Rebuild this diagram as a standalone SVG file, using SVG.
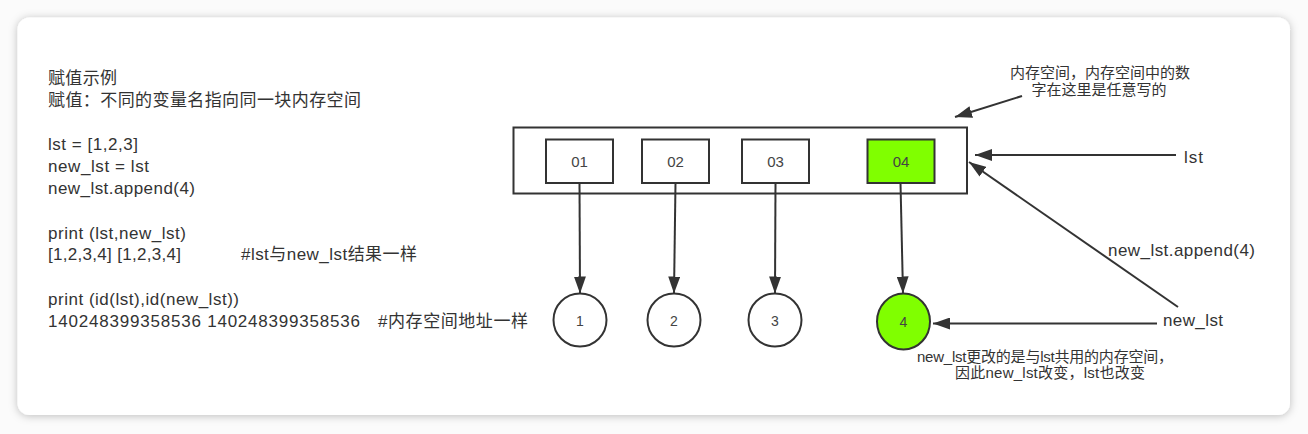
<svg xmlns="http://www.w3.org/2000/svg" width="1308" height="434" viewBox="0 0 1308 434">
  <defs>
    <filter id="shadow" x="-5%" y="-10%" width="110%" height="120%">
      <feDropShadow dx="0" dy="1" stdDeviation="4" flood-color="#000" flood-opacity="0.25"/>
    </filter>
    <marker id="arrow" viewBox="0 0 17 12" markerWidth="17" markerHeight="12" refX="17" refY="6" orient="auto" markerUnits="userSpaceOnUse">
      <path d="M0,0 L17,6 L0,12 z" fill="#333"/>
    </marker>
    <style>
      text { font-family: "Liberation Sans", "Noto Sans CJK SC", sans-serif; fill: #333; }
      .code { font-size: 17px; }
      .lbl { font-size: 17px; }
      .note { font-size: 15px; text-anchor: middle; }
      .box { fill: #fff; stroke: #333; stroke-width: 2; }
      .green { fill: #80ff00; }
      .num { font-size: 15px; text-anchor: middle; fill: #444; }
      .cnum { font-size: 14px; text-anchor: middle; fill: #444; }
      .conn { stroke: #333; stroke-width: 2; fill: none; marker-end: url(#arrow); }
    </style>
  </defs>

  <rect x="0" y="0" width="1308" height="434" fill="#fbfbfb"/>
  <rect x="17.5" y="17.5" width="1272.5" height="397.5" rx="12" ry="12" fill="#fff" filter="url(#shadow)"/>

  <g id="code-text">
    <text class="code" x="48" y="84" textLength="69">赋值示例</text>
    <text class="code" x="48" y="106" textLength="313">赋值：不同的变量名指向同一块内存空间</text>
    <text class="code" x="48" y="150" textLength="90">lst = [1,2,3]</text>
    <text class="code" x="48" y="172" textLength="101">new_lst = lst</text>
    <text class="code" x="48" y="194" textLength="147">new_lst.append(4)</text>
    <text class="code" x="48" y="239" textLength="138">print (lst,new_lst)</text>
    <text class="code" x="48" y="260" textLength="133">[1,2,3,4] [1,2,3,4]</text>
    <text class="code" x="241" y="260" textLength="176">#lst与new_lst结果一样</text>
    <text class="code" x="48" y="305" textLength="191">print (id(lst),id(new_lst))</text>
    <text class="code" x="48" y="327" textLength="312">140248399358536 140248399358536</text>
    <text class="code" x="378" y="327" textLength="150">#内存空间地址一样</text>
  </g>

  <g id="memory">
    <rect class="box" x="513.5" y="127.5" width="453.5" height="66"/>
  </g>
  <g id="cell-01">
    <rect class="box" x="546" y="139.5" width="67" height="43.5"/>
    <text class="num" x="579.5" y="166.5">01</text>
  </g>
  <g id="cell-02">
    <rect class="box" x="642" y="139.5" width="67" height="43.5"/>
    <text class="num" x="675.5" y="166.5">02</text>
  </g>
  <g id="cell-03">
    <rect class="box" x="742" y="139.5" width="67" height="43.5"/>
    <text class="num" x="775.5" y="166.5">03</text>
  </g>
  <g id="cell-04">
    <rect class="box green" x="867.5" y="139.5" width="67" height="43.5"/>
    <text class="num" x="901" y="166.5">04</text>
  </g>

  <g id="val-1">
    <ellipse class="box" cx="580" cy="320" rx="26.5" ry="26.5"/>
    <text class="cnum" x="580" y="325.5">1</text>
  </g>
  <g id="val-2">
    <ellipse class="box" cx="674" cy="320" rx="26.5" ry="26.5"/>
    <text class="cnum" x="674" y="325.5">2</text>
  </g>
  <g id="val-3">
    <ellipse class="box" cx="775" cy="320" rx="26.5" ry="26.5"/>
    <text class="cnum" x="775" y="325.5">3</text>
  </g>
  <g id="val-4">
    <ellipse class="box green" cx="903.5" cy="321.5" rx="26.5" ry="28"/>
    <text class="cnum" x="903.5" y="327">4</text>
  </g>

  <g id="labels">
    <text class="note" x="1100" y="78">内存空间，内存空间中的数</text>
    <text class="note" x="1099" y="95">字在这里是任意写的</text>
    <text class="lbl" x="1184" y="162.5" textLength="19">lst</text>
    <text class="lbl" x="1108" y="256" textLength="147">new_lst.append(4)</text>
    <text class="lbl" x="1163" y="326" textLength="60">new_lst</text>
    <text class="note" x="1045" y="362" textLength="256">new_lst更改的是与lst共用的内存空间，</text>
    <text class="note" x="1050" y="378" textLength="190">因此new_lst改变，lst也改变</text>
  </g>

  <g id="connectors">
    <line class="conn" x1="579.5" y1="183" x2="580" y2="293.5"/>
    <line class="conn" x1="675.5" y1="183" x2="674" y2="293.5"/>
    <line class="conn" x1="775.5" y1="183" x2="775" y2="293.5"/>
    <line class="conn" x1="900.5" y1="183" x2="903" y2="293.5"/>
    <line class="conn" x1="1022" y1="96" x2="955" y2="117"/>
    <line class="conn" x1="1176" y1="155" x2="975" y2="155"/>
    <line class="conn" x1="1178" y1="307" x2="969" y2="162"/>
    <line class="conn" x1="1157" y1="323.5" x2="933" y2="323.5"/>
  </g>
</svg>
